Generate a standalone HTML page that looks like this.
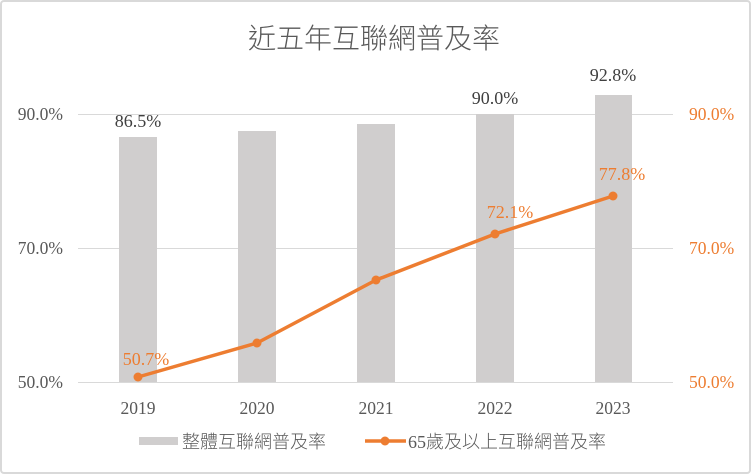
<!DOCTYPE html>
<html><head><meta charset="utf-8"><style>
html,body{margin:0;padding:0;background:#fff;}
svg{display:block;}
</style></head><body>
<svg width="752" height="475" viewBox="0 0 752 475" xmlns="http://www.w3.org/2000/svg">
<rect x="1" y="1" width="749" height="472" fill="#fff" stroke="#d9d9d9" stroke-width="2" rx="3"/>
<text x="374" y="48" text-anchor="middle" font-family="'Noto Sans CJK TC','Noto Sans CJK SC',sans-serif" font-weight="300" font-size="28" fill="#595959">近五年互聯網普及率</text>
<g stroke="#d9d9d9" stroke-width="1">
<line x1="78" y1="114.5" x2="673" y2="114.5"/>
<line x1="78" y1="248.5" x2="673" y2="248.5"/>
<line x1="78" y1="382.5" x2="673" y2="382.5"/>
</g>
<g fill="#d0cece">
<rect x="119" y="137" width="38" height="245"/>
<rect x="238" y="131" width="38" height="251"/>
<rect x="357" y="124" width="38" height="258"/>
<rect x="476" y="114" width="38" height="268"/>
<rect x="595" y="95" width="37" height="287"/>
</g>
<g font-family="'Liberation Serif',serif" font-size="17.5" fill="#595959">
<text x="63" y="120" text-anchor="end">90.0%</text>
<text x="63" y="254" text-anchor="end">70.0%</text>
<text x="63" y="388" text-anchor="end">50.0%</text>
<g fill="#ed7d31">
<text x="689" y="120">90.0%</text>
<text x="689" y="254">70.0%</text>
<text x="689" y="388">50.0%</text>
</g>
<text x="138" y="414" text-anchor="middle">2019</text>
<text x="257" y="414" text-anchor="middle">2020</text>
<text x="376" y="414" text-anchor="middle">2021</text>
<text x="495" y="414" text-anchor="middle">2022</text>
<text x="613" y="414" text-anchor="middle">2023</text>
<g fill="#404040" font-size="18">
<text x="138" y="127" text-anchor="middle">86.5%</text>
<text x="495" y="104" text-anchor="middle">90.0%</text>
<text x="613" y="81" text-anchor="middle">92.8%</text>
</g>
<g fill="#ed7d31" font-size="18">
<text x="146" y="365" text-anchor="middle">50.7%</text>
<text x="510" y="218" text-anchor="middle">72.1%</text>
<text x="622" y="180" text-anchor="middle">77.8%</text>
</g>
</g>
<polyline points="138,377 257,343 376,280 495,234 613,196" fill="none" stroke="#ed7d31" stroke-width="3.5" stroke-linejoin="round"/>
<g fill="#ed7d31">
<circle cx="138" cy="377" r="4.5"/><circle cx="257" cy="343" r="4.5"/><circle cx="376" cy="280" r="4.5"/><circle cx="495" cy="234" r="4.5"/><circle cx="613" cy="196" r="4.5"/>
</g>
<rect x="139" y="437" width="39" height="8" fill="#d0cece"/>
<text x="182" y="448" font-family="'Noto Sans CJK TC',sans-serif" font-weight="300" font-size="18" fill="#595959">整體互聯網普及率</text>
<line x1="365" y1="441" x2="406" y2="441" stroke="#ed7d31" stroke-width="3.5"/>
<circle cx="385" cy="441" r="4.5" fill="#ed7d31"/>
<text x="408" y="448" font-family="'Liberation Serif','Noto Sans CJK TC',serif" font-size="18" fill="#595959">65<tspan font-family="'Noto Sans CJK TC',sans-serif" font-weight="300">歲及以上互聯網普及率</tspan></text>
</svg>
</body></html>
